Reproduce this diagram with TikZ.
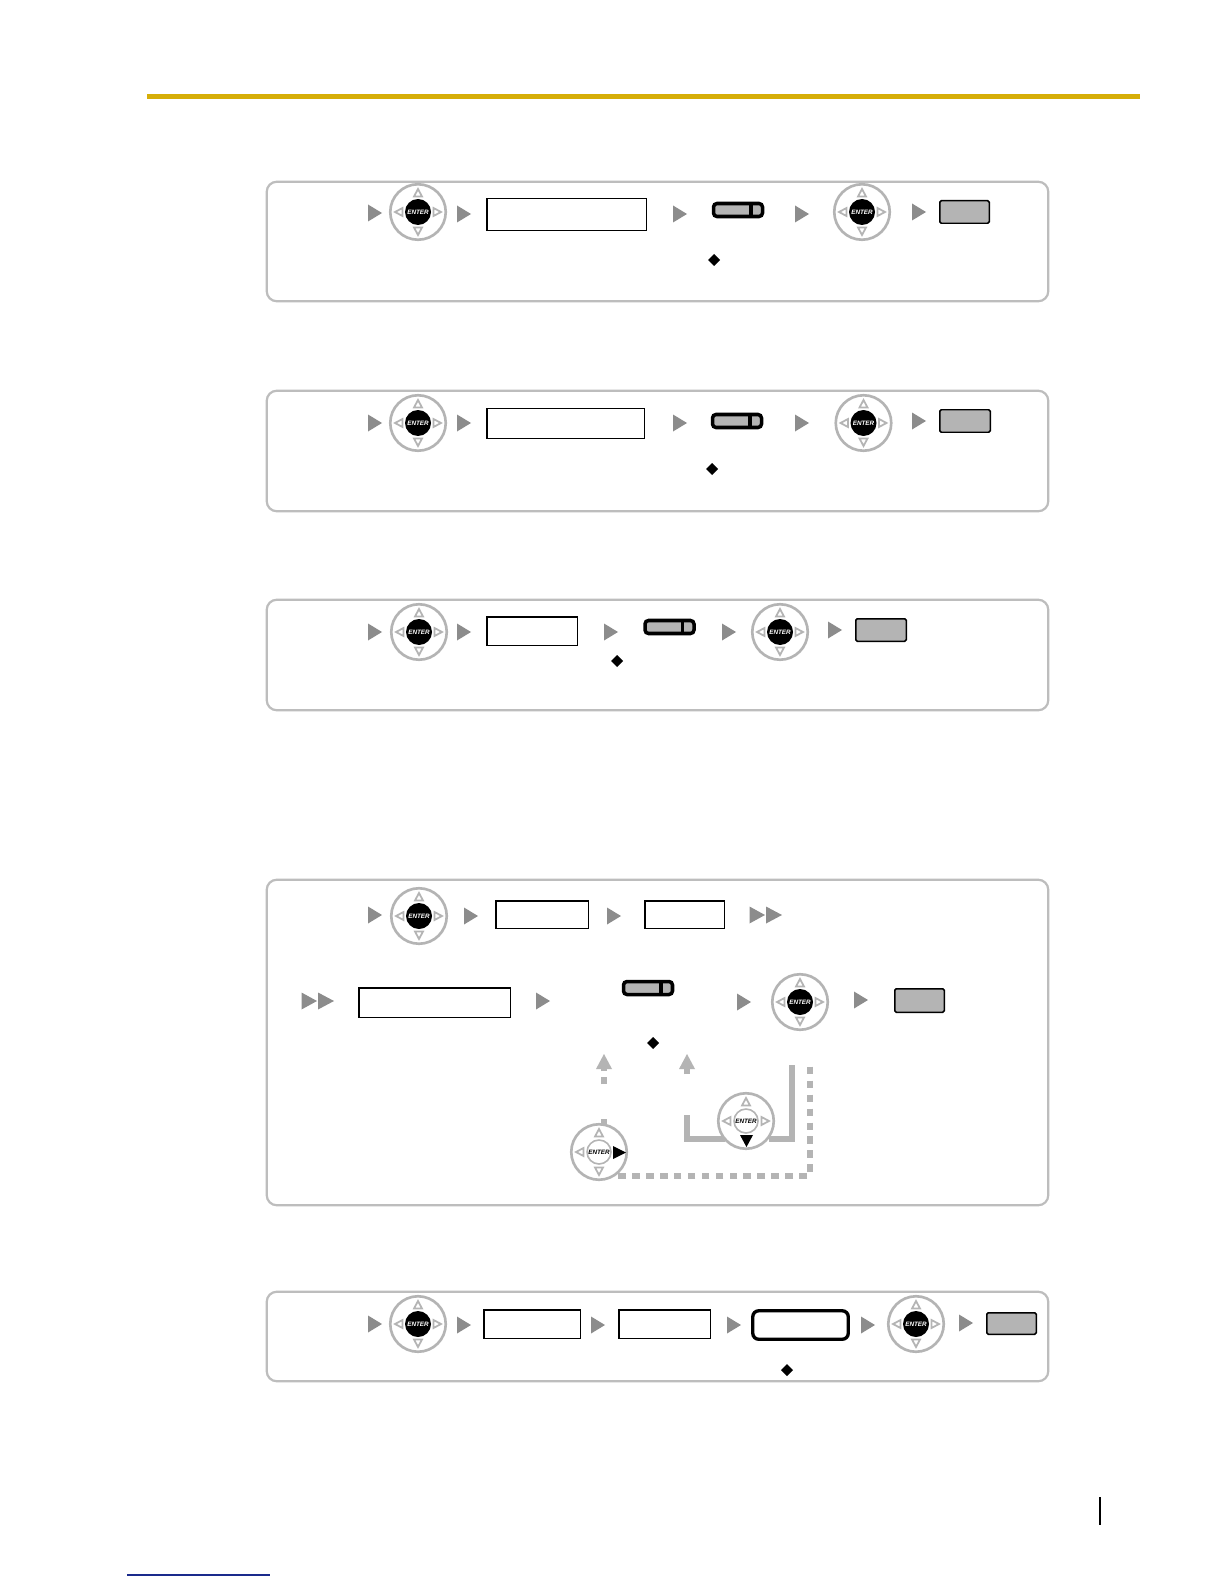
\documentclass[tikz,border=0pt]{standalone}
\usepackage{fontspec}
\setsansfont{Liberation Sans}
\usetikzlibrary{shapes.geometric}
\definecolor{pgray}{HTML}{BDBDBD}
\definecolor{lgray}{HTML}{B4B4B4}
\definecolor{tgray}{HTML}{8C8C8C}
\definecolor{gold}{HTML}{D6AE08}
\definecolor{linkblue}{HTML}{1A2A8C}
\newcommand{\rect}[6]{% name, style, x1, y1, x2, y2
  \pgfmathsetmacro{\rcx}{(#3+#5)/2}\pgfmathsetmacro{\rcy}{(#4+#6)/2}
  \pgfmathsetmacro{\rw}{(#5-#3-1.5)*0.02}\pgfmathsetmacro{\rh}{(#6-#4-1.5)*0.02}
  \node[#2,minimum width=\rw cm,minimum height=\rh cm] (#1) at (\rcx,\rcy) {};}
\tikzset{
  x=0.02cm,y=-0.02cm,
  panel/.style={draw=pgray,line width=1.25pt,rounded corners=0.2cm,inner sep=0,outer sep=0,fill=white},
  whitebox/.style={draw=black,line width=0.85pt,fill=white,inner sep=0,outer sep=0},
  roundbox/.style={draw=black,line width=1.9pt,fill=white,rounded corners=0.12cm,inner sep=0,outer sep=0},
  graybox/.style={draw=black,line width=0.85pt,fill=lgray,rounded corners=0.03cm,inner sep=0,outer sep=0},
  pill/.style={draw=black,line width=2pt,fill=lgray,rounded corners=0.07cm,inner sep=0,outer sep=0},
  ringnode/.style={circle,draw=lgray,line width=1.5pt,fill=white,minimum size=1.11cm,inner sep=0,outer sep=0},
  hubdark/.style={circle,fill=black,minimum size=0.52cm,inner sep=0,text=white,font=\sffamily\bfseries\itshape\fontsize{3.6}{4}\selectfont},
  hublight/.style={circle,draw=lgray,line width=0.9pt,fill=white,minimum size=0.48cm,inner sep=0,text=black,font=\sffamily\bfseries\itshape\fontsize{3.6}{4}\selectfont},
  dirtri/.style={draw=lgray,line width=1pt,fill=white,line join=miter},
  solidgray/.style={draw=lgray,line width=3.4pt},
  dotgray/.style={draw=lgray,line width=3.6pt,dash pattern=on 4.4pt off 3.54pt},
  pics/play/.style={code={\fill[tgray] (-7,-8.5)--(7,0)--(-7,8.5)--cycle;}},
  pics/dplay/.style={code={\fill[tgray] (-16.5,-8.5)--(-1,0)--(-16.5,8.5)--cycle (0,-8.5)--(16,0)--(0,8.5)--cycle;}},
  pics/dia/.style={code={\fill[black] (-6,0)--(0,-6)--(6,0)--(0,6)--cycle;}},
  pics/dirs/.style={code={
    \draw[dirtri] (-4,-15.5)--(4,-15.5)--(0,-23)--cycle;
    \draw[dirtri] (-4,15.5)--(4,15.5)--(0,23)--cycle;
    \draw[dirtri] (-15.5,-4)--(-15.5,4)--(-23,0)--cycle;
    \draw[dirtri] (15.5,-4)--(15.5,4)--(23,0)--cycle;}},
  pics/enterdark/.style={code={
    \node[ringnode] (-ring) at (0,0) {};
    \pic {dirs};
    \node[hubdark] (-hub) at (0,0) {ENTER};}},
  pics/enterlight/.style={code={
    \node[ringnode] (-ring) at (0,0) {};
    \pic {dirs};
    \node[hublight] (-hub) at (0,0) {ENTER};}},
  pics/pillbtn/.style={code={
    \node[pill,minimum width=0.98cm,minimum height=0.26cm] (-body) at (0,0) {};
    \fill[black] (11,-7.5) rectangle (14.5,7.5);}},
}
\begin{document}
\begin{tikzpicture}
\useasboundingbox (0,0) rectangle (1224,1584);
\fill[white] (0,0) rectangle (1224,1584);
% header rule and page furniture
\coordinate (ruleL) at (147,96.5); \coordinate (ruleR) at (1140,96.5);
\draw[gold,line width=2.9pt] (ruleL)--(ruleR);
\coordinate (barT) at (1100,1497); \coordinate (barB) at (1100,1525);
\draw[black,line width=0.75pt] (barT)--(barB);
\coordinate (linkL) at (127,1575); \coordinate (linkR) at (270,1575);
\draw[linkblue,line width=0.75pt] (linkL)--(linkR);
% panels
\rect{pA}{panel}{266}{181}{1049}{302}
\rect{pB}{panel}{266}{390}{1049}{512}
\rect{pC}{panel}{266}{599}{1049}{711}
\rect{pD}{panel}{266}{879}{1049}{1206}
\rect{pE}{panel}{266}{1291}{1049}{1382}
% panel A
\pic at (375,213) {play};
\pic (eA1) at (418,212) {enterdark};
\pic at (464,214) {play};
\rect{bA}{whitebox}{486}{198}{647}{231}
\pic at (680,214) {play};
\pic (pillA) at (738,210) {pillbtn};
\pic at (802,214) {play};
\pic (eA2) at (862,212) {enterdark};
\pic at (919,212) {play};
\rect{gA}{graybox}{939}{200}{990}{224}
\pic at (714,260) {dia};
% panel B
\pic at (375,423) {play};
\pic (eB1) at (418,423) {enterdark};
\pic at (464,423) {play};
\rect{bB}{whitebox}{486}{408}{645}{439}
\pic at (680,423) {play};
\pic (pillB) at (737,421) {pillbtn};
\pic at (802,423) {play};
\pic (eB2) at (863.5,423) {enterdark};
\pic at (919,421) {play};
\rect{gB}{graybox}{939}{409}{991}{433}
\pic at (712,469) {dia};
% panel C
\pic at (375,632) {play};
\pic (eC1) at (419,632) {enterdark};
\pic at (464,632) {play};
\rect{bC}{whitebox}{486}{616}{578}{646}
\pic at (611,632) {play};
\pic (pillC) at (669.5,627) {pillbtn};
\pic at (729,632) {play};
\pic (eC2) at (780,632) {enterdark};
\pic at (835,630) {play};
\rect{gC}{graybox}{855}{618}{907}{642}
\pic at (617,661) {dia};
% panel D row 1
\pic at (375,915) {play};
\pic (eD1) at (419,916) {enterdark};
\pic at (471,916) {play};
\rect{bD1}{whitebox}{495}{900}{589}{929}
\pic at (614,916) {play};
\rect{bD2}{whitebox}{644}{900}{725}{929}
\pic at (766,915) {dplay};
% panel D row 2
\pic at (318,1001) {dplay};
\rect{bD3}{whitebox}{358}{987}{511}{1018}
\pic at (543,1001) {play};
\pic (pillD) at (648,988) {pillbtn};
\pic at (744,1002) {play};
\pic (eD2) at (800,1002) {enterdark};
\pic at (861,1000) {play};
\rect{gD}{graybox}{894}{988}{945}{1013}
\pic at (653,1043) {dia};
% panel D loop connectors
\coordinate (solidA) at (687,1115); \coordinate (solidB) at (687,1139); \coordinate (solidC) at (725,1139);
\coordinate (solidD) at (769,1139); \coordinate (solidE) at (792,1139); \coordinate (solidF) at (792,1065);
\draw[solidgray] (solidA)--(solidB)--(solidC);
\draw[solidgray] (solidD)--(solidE)--(solidF);
\coordinate (upS) at (687,1074); \coordinate (upT) at (687,1064);
\draw[solidgray] (upS)--(upT);
\fill[lgray] (679,1069)--(687,1054)--(695,1069)--cycle;
\coordinate (dotT) at (809.7,1066.7); \coordinate (dotC) at (809.7,1176); \coordinate (dotH) at (807,1176); \coordinate (dotL) at (615,1176);
\draw[dotgray] (dotT)--(dotC);
\draw[dotgray] (dotH)--(dotL);
\coordinate (stubB) at (604,1126); \coordinate (stubT) at (604,1119);
\draw[solidgray] (stubB)--(stubT);
\coordinate (stemA) at (604,1084); \coordinate (stemB) at (604,1077);
\draw[solidgray] (stemA)--(stemB);
\coordinate (stemC) at (604,1071); \coordinate (stemD) at (604,1066);
\draw[solidgray] (stemC)--(stemD);
\fill[lgray] (596,1069)--(604,1054)--(612,1069)--cycle;
\pic (eD3) at (746,1121) {enterlight};
\fill[black] (740,1135)--(753,1135)--(746.5,1147)--cycle;
\pic (eD4) at (599,1152) {enterlight};
\fill[black] (613,1146)--(626,1152.5)--(613,1159)--cycle;
% panel E
\pic at (375,1324) {play};
\pic (eE1) at (418,1324) {enterdark};
\pic at (464,1325) {play};
\rect{bE1}{whitebox}{483}{1309}{581}{1339}
\pic at (598,1325) {play};
\rect{bE2}{whitebox}{618}{1309}{711}{1339}
\pic at (734,1325) {play};
\rect{bE3}{roundbox}{752}{1310}{849}{1340}
\pic at (868,1325) {play};
\pic (eE2) at (916,1324) {enterdark};
\pic at (966,1323) {play};
\rect{gE}{graybox}{986}{1312}{1037}{1335}
\pic at (787,1370) {dia};
\end{tikzpicture}
\end{document}
